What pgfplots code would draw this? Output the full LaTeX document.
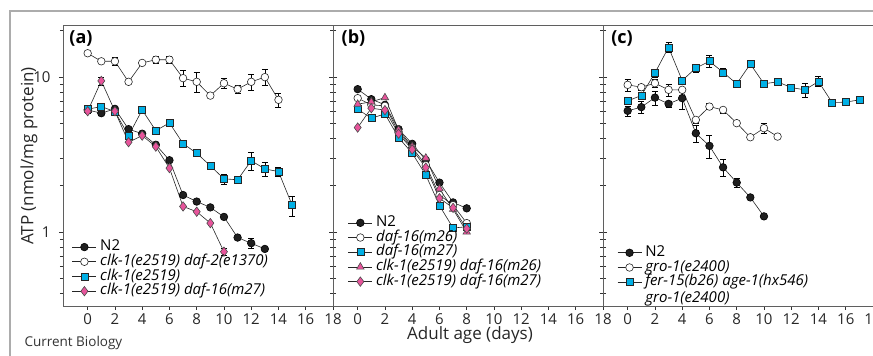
\documentclass[border=0pt]{standalone}
\usepackage{pgfplots}
\pgfplotsset{compat=1.18}
\usepackage{fontspec}
\setmainfont{Open Sans}
\setsansfont{Open Sans}
\definecolor{cyanb}{RGB}{0,176,230}
\definecolor{pinkd}{RGB}{231,84,155}
\definecolor{axgray}{RGB}{95,95,95}
\pgfplotsset{
  every axis/.append style={
    scale only axis, width=270pt, height=281pt, anchor=south west,
    xmin=-1.81, xmax=18, ymin=0.333, ymax=21.6,
    xtick={0,2,...,18},
    tick align=outside, xtick pos=left,
    major tick length=4pt, minor tick length=3pt,
    axis line style={axgray, line width=0.9pt},
    tick style={black!80, line width=0.6pt},
    /pgf/number format/assume math mode=true,
    tick label style={font=\fontsize{15}{16}\selectfont, text=black!85},
    yticklabel style={xshift=-5pt},
    legend style={draw=none, fill=none, font=\fontsize{15}{15}\selectfont,
      anchor=south west, row sep=1.2pt, inner sep=0pt,
      nodes={inner xsep=3.5pt, inner ysep=0pt, text height=10.5pt, text depth=3pt}},
    legend cell align=left,
    clip=false,
  },
  legend image code/.code={\draw[mark repeat=2,mark phase=2,#1] plot coordinates {(0pt,0pt) (12pt,0pt) (24pt,0pt)};},
  error bars/error bar style={black, line width=0.6pt},
  error bars/error mark options={rotate=90, mark size=3pt, black, line width=0.6pt},
  sn2/.style={black!85, line width=0.6pt, mark=*, mark size=3.8pt, mark options={fill=black!88, draw=black}},
  sop/.style={black!85, line width=0.6pt, mark=*, mark size=3.8pt, mark options={fill=white, draw=black!85}},
  ssq/.style={black!85, line width=0.6pt, mark=square*, mark size=3.5pt, mark options={fill=cyanb, draw=black!85}},
  sdi/.style={black!85, line width=0.6pt, mark=diamond*, mark size=4.7pt, mark options={fill=pinkd, draw=black!70}},
  str/.style={black!85, line width=0.6pt, mark=triangle*, mark size=4.3pt, mark options={fill=pinkd, draw=black!70}},
}
\begin{document}
\begin{tikzpicture}[x=1pt,y=1pt]
\path[use as bounding box] (0,0) rectangle (873,356);
\draw[gray!65, line width=1.5pt] (10,0) -- (10,345) -- (873,345);
% ---------- panel (a)
\begin{axis}[ymode=log, at={(63pt,50pt)}, ytick pos=both,
  ytick={1,10}, yticklabels={1,10},
  minor ytick={0.4,0.5,0.6,0.7,0.8,0.9,2,3,4,5,6,7,8,9,20},
  legend style={at={(0.033,0.028)}},
  legend entries={N2, \textit{clk-1(e2519) daf-2(e1370)}, \textit{clk-1(e2519)}, \textit{clk-1(e2519) daf-16(m27)}}]
\addplot[sn2, error bars/y dir=both, error bars/y explicit] table[x=x,y=y,y error=e] {
x y e
0 6.12 0.3
1 5.83 0.2
2 6.22 0
3 4.60 0
4 4.30 0
5 3.65 0
6 2.90 0
7 1.73 0
8 1.57 0
9 1.44 0
10 1.25 0
11 0.92 0
12 0.846 0.065
13 0.777 0
};
\addplot[sop, error bars/y dir=both, error bars/y explicit] table[x=x,y=y,y error=e] {
x y e
0 14.2 0
1 12.6 0
2 12.6 0.75
3 9.29 0
4 12.3 0
5 12.9 0.58
6 12.9 0.58
7 9.81 1.17
8 9.29 1.38
9 7.57 0
10 9.10 0.68
11 8.33 0.5
12 9.29 1.1
13 9.96 1.19
14 7.11 0.74
};
\addplot[ssq, error bars/y dir=both, error bars/y explicit] table[x=x,y=y,y error=e] {
x y e
0 6.19 0.28
1 6.43 0
2 5.97 0
3 4.18 0
4 6.12 0
5 4.50 0
6 5.05 0
7 3.71 0
8 3.22 0
9 2.67 0
10 2.20 0.17
11 2.17 0
12 2.88 0.39
13 2.55 0.28
14 2.45 0.18
15 1.49 0.22
};
\addplot[sdi, error bars/y dir=both, error bars/y explicit] table[x=x,y=y,y error=e] {
x y e
0 6.0 0
1 9.42 0.56
2 6.0 0
3 3.79 0
4 4.18 0
5 3.55 0
6 2.58 0
7 1.46 0
8 1.35 0
9 1.14 0
10 0.746 0.044
};
\end{axis}
% ---------- panel (b)
\begin{axis}[ymode=log, at={(333pt,50pt)}, ytick pos=both,
  ytick={1,10}, yticklabels={},
  minor ytick={0.4,0.5,0.6,0.7,0.8,0.9,2,3,4,5,6,7,8,9,20},
  legend style={at={(0.055,0.062)}},
  legend entries={N2, \textit{daf-16(m26)}, \textit{daf-16(m27)}, \textit{clk-1(e2519) daf-16(m26)}, \textit{clk-1(e2519) daf-16(m27)}}]
\addplot[sn2] table[x=x,y=y] {
x y
0 8.33
1 7.18
2 6.6
3 4.60
4 3.70
5 2.91
6 2.08
7 1.55
8 1.42
};
\addplot[sop] table[x=x,y=y] {
x y
0 7.29
1 6.6
2 6.50
3 4.4
4 3.5
5 2.7
6 1.73
7 1.49
8 1.14
};
\addplot[ssq] table[x=x,y=y] {
x y
0 6.19
1 5.41
2 5.77
3 4.06
4 3.22
5 2.33
6 1.48
7 1.06
8 1.08
};
\addplot[str] table[x=x,y=y] {
x y
0 6.67
1 6.9
2 7.35
3 4.55
4 3.55
5 3.0
6 1.9
7 1.40
8 1.0
};
\addplot[sdi] table[x=x,y=y] {
x y
0 4.71
1 6.28
2 6.1
3 4.3
4 3.4
5 2.6
6 1.65
7 1.43
8 1.05
};
\end{axis}
% ---------- panel (c)
\begin{axis}[ymode=log, at={(603pt,50pt)}, ytick pos=both,
  ytick={1,10}, yticklabels={},
  minor ytick={0.4,0.5,0.6,0.7,0.8,0.9,2,3,4,5,6,7,8,9,20},
  legend style={at={(0.052,0.06)}},
  legend entries={N2, \textit{gro-1(e2400)}, \textit{\begin{tabular}[t]{@{}l@{}}fer-15(b26) age-1(hx546)\\[1pt]gro-1(e2400)\end{tabular}}}]
\addplot[sn2, error bars/y dir=both, error bars/y explicit] table[x=x,y=y,y error=e] {
x y e
0 6.04 0.45
1 6.38 0.57
2 7.35 0.77
3 6.70 0.3
4 7.29 1.09
5 4.33 0.52
6 3.59 0.59
7 2.61 0.31
8 2.08 0.15
9 1.67 0
10 1.26 0
};
\addplot[sop, error bars/y dir=both, error bars/y explicit] table[x=x,y=y,y error=e] {
x y e
0 8.88 0.8
1 8.58 0.38
2 9.10 0.5
3 8.25 0.74
4 8.25 0
5 5.28 0.24
6 6.43 0.29
7 6.12 0.27
8 5.03 0
9 4.08 0
10 4.67 0.35
11 4.12 0
};
\addplot[ssq, error bars/y dir=both, error bars/y explicit] table[x=x,y=y,y error=e] {
x y e
0 7.0 0
1 7.58 0
2 10.6 0.63
3 15.5 1.15
4 9.47 0
5 11.4 0.68
6 12.6 1.13
7 10.7 0.64
8 9.02 0
9 12.1 0
10 9.02 0.4
11 9.29 0
12 8.53 0
13 8.25 0.86
14 9.33 0.7
15 6.83 0
16 6.87 0
17 7.11 0
};
\end{axis}
\node[font=\fontsize{18}{20}\selectfont\bfseries] at (81,317.5) {(a)};
\node[font=\fontsize{18}{20}\selectfont\bfseries] at (353.5,317.5) {(b)};
\node[font=\fontsize{18}{20}\selectfont\bfseries] at (622,317.5) {(c)};
\node[font=\fontsize{17}{18}\selectfont, rotate=90, text=black!85] at (29,200) {ATP (nmol/mg protein)};
\node[font=\fontsize{17}{18}\selectfont, text=black!85] at (470,21) {Adult age (days)};
\node[font=\fontsize{13.5}{14}\selectfont, anchor=west, text=black!80] at (21,13) {Current Biology};
\end{tikzpicture}
\end{document}
